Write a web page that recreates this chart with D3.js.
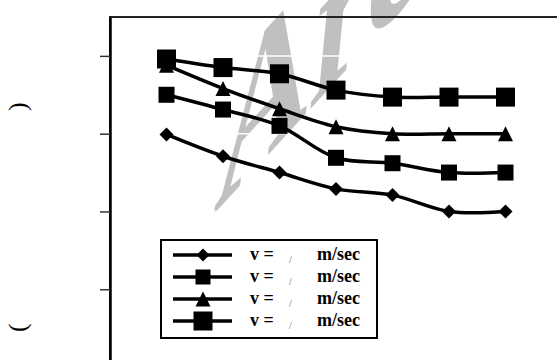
<!DOCTYPE html>
<html>
<head>
<meta charset="utf-8">
<script src="https://cdn.jsdelivr.net/npm/d3@7"></script>
<style>
  body { margin: 0; background: #fff; }
  svg { display: block; }
</style>
</head>
<body>
<div id="chart"></div>
<script>
// Set up SVG dimensions
const width = 557, height = 360;
const plot = { left: 110, top: 17, right: 562, bottom: 367 };

// Data (x = point index, y = unlabelled value)
const xPoints = [1, 2, 3, 4, 5, 6, 7];
const yTicks = [1, 2, 3, 4];
const seriesDiamond = [2.99, 2.71, 2.50, 2.29, 2.21, 2.00, 2.00];
const seriesSmallSquare = [3.50, 3.31, 3.10, 2.69, 2.62, 2.50, 2.50];
const seriesTriangle = [3.88, 3.58, 3.32, 3.09, 3.00, 3.00, 3.00];
const seriesBigSquare = [3.96, 3.85, 3.77, 3.56, 3.47, 3.47, 3.47];
const legendLabels = ["v =", "v =", "v =", "v ="];

const series = [
    { values: seriesDiamond, marker: "diamond", size: 14, legendSize: 13 },
    { values: seriesSmallSquare, marker: "square", size: 16, legendSize: 15 },
    { values: seriesTriangle, marker: "triangle", size: 15, legendSize: 15 },
    { values: seriesBigSquare, marker: "square", size: 19, legendSize: 19 }
];

// Scales
const x = d3.scaleLinear().domain([0, 8]).range([plot.left, plot.right]);
const y = d3.scaleLinear().domain([0, 4.5]).range([plot.bottom, plot.top]);

const svg = d3.select("#chart").append("svg").attr("width", width).attr("height", height);

// Marker paths centred on 0,0
function markerPath(type, s) {
    const h = s / 2;
    if (type === "diamond") return `M0,${-h}L${h},0L0,${h}L${-h},0Z`;
    if (type === "triangle") return `M0,${-h}L${h},${h}L${-h},${h}Z`;
    return `M${-h},${-h}H${h}V${h}H${-h}Z`;
}

// Watermark, sheared upwards (behind everything)
svg.append("text")
    .attr("transform", "matrix(1.3,-1.42,-0.21,2.17,213,215)")
    .attr("font-family", "Liberation Serif, serif")
    .attr("font-weight", "bold")
    .attr("font-size", 100)
    .attr("fill", "#c0c0c0")
    .text("Arc");

// White gridlines (only visible where they cross the watermark)
svg.append("g").selectAll("line").data(yTicks).join("line")
    .attr("x1", plot.left).attr("x2", plot.right)
    .attr("y1", d => y(d)).attr("y2", d => y(d))
    .attr("stroke", "#fff").attr("stroke-width", 1.5);

// Plot frame
svg.append("rect")
    .attr("x", plot.left).attr("y", plot.top)
    .attr("width", plot.right - plot.left).attr("height", plot.bottom - plot.top)
    .attr("fill", "none").attr("stroke", "#222").attr("stroke-width", 2);

// Y axis (tick labels are blank in the source)
const yAxis = svg.append("g")
    .attr("transform", `translate(${plot.left},0)`)
    .call(d3.axisLeft(y).tickValues(yTicks).tickSize(10).tickSizeOuter(0).tickFormat(""));
yAxis.select(".domain").attr("stroke", "#000").attr("stroke-width", 2.5);
yAxis.selectAll(".tick line").attr("stroke", "#333").attr("stroke-width", 1.5);

// Lines
const line = d3.line()
    .x((d, i) => x(xPoints[i]))
    .y(d => y(d))
    .curve(d3.curveCatmullRom.alpha(0.5));

series.forEach(s => {
    svg.append("path")
        .datum(s.values)
        .attr("fill", "none")
        .attr("stroke", "#000")
        .attr("stroke-width", 3.5)
        .attr("d", line);
});

// Markers
series.forEach(s => {
    svg.append("g").selectAll("path").data(s.values).join("path")
        .attr("transform", (d, i) => `translate(${x(xPoints[i])},${y(d)})`)
        .attr("d", markerPath(s.marker, s.size))
        .attr("fill", "#000");
});

// Y axis title: only the brackets survive, each glyph turned on its side
[{ ch: ")", cx: 26, cy: 111 }, { ch: "(", cx: 26, cy: 332 }].forEach(p => {
    svg.append("text")
        .attr("x", p.cx).attr("y", p.cy)
        .attr("rotate", -90)
        .attr("font-family", "Liberation Serif, serif")
        .attr("font-size", 26)
        .text(p.ch);
});

// Legend
const legend = svg.append("g");
legend.append("rect")
    .attr("x", 161).attr("y", 240).attr("width", 216).attr("height", 98)
    .attr("fill", "#fff").attr("stroke", "#000").attr("stroke-width", 2);

series.forEach((s, i) => {
    const ly = 255 + i * 22;
    const row = legend.append("g").attr("transform", `translate(0,${ly})`);
    row.append("line").attr("x1", 173).attr("x2", 232).attr("y1", 0).attr("y2", 0)
        .attr("stroke", "#000").attr("stroke-width", 3.5);
    row.append("path").attr("transform", "translate(203,0)")
        .attr("d", markerPath(s.marker, s.legendSize)).attr("fill", "#000");
    const t = row.append("text")
        .attr("y", 5)
        .attr("font-family", "Liberation Serif, serif")
        .attr("font-weight", "bold")
        .attr("font-size", 18);
    t.append("tspan").attr("x", 250).text(legendLabels[i]);
    t.append("tspan").attr("x", 289).attr("dy", 3).attr("font-size", 10)
        .attr("font-weight", "normal").attr("fill", "#666").text("/");
    t.append("tspan").attr("x", 317).attr("dy", -3).text("m/sec");
});
</script>
</body>
</html>
